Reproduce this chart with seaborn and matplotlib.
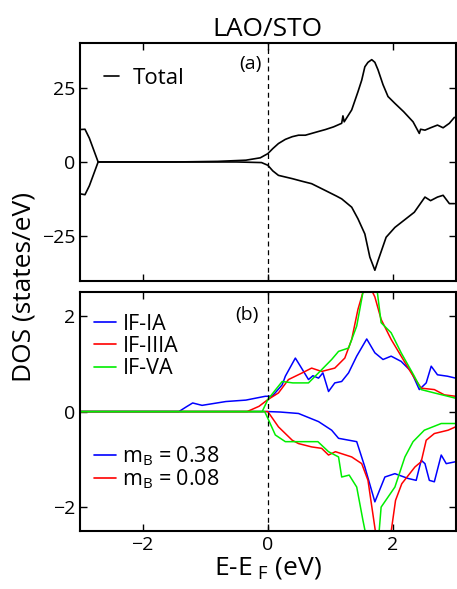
import numpy as np
import pandas as pd
import matplotlib
matplotlib.use("Agg")
import matplotlib.pyplot as plt
from matplotlib.lines import Line2D
import seaborn as sns

# ---------------- data ----------------
tot_up_E = [-3.0, -2.92, -2.85, -2.71, -2.0, -1.47, -0.8, -0.35, -0.12, 0.0, 0.08, 0.17, 0.28, 0.39, 0.49,
            0.6, 0.70, 0.8, 0.92, 1.05, 1.18, 1.2, 1.22, 1.34, 1.44, 1.5, 1.55, 1.6, 1.66, 1.71, 1.76, 1.84,
            1.92, 2.03, 2.17, 2.32, 2.42, 2.44, 2.51, 2.6, 2.71, 2.8, 2.9, 2.98]
tot_up = [10.9, 11.0, 8.0, 0.0, 0.0, 0.0, 0.2, 0.6, 1.4, 2.8, 4.5, 6.2, 7.6, 8.5, 9.0,
          9.0, 9.6, 10.2, 10.9, 11.8, 13.0, 15.5, 13.5, 17.5, 23.6, 27.5, 32.0, 33.5, 34.4, 33.5, 31.0, 26.0,
          22.0, 19.7, 16.9, 13.5, 9.6, 11.0, 10.7, 11.5, 12.4, 11.5, 13.0, 15.0]
tot_dn_E = [-3.0, -2.92, -2.85, -2.71, -2.0, -0.5, -0.1, 0.0, 0.08, 0.17, 0.39, 0.55, 0.70, 0.92, 1.1,
            1.18, 1.34, 1.44, 1.55, 1.63, 1.71, 1.76, 1.89, 2.03, 2.17, 2.34, 2.51, 2.6, 2.71, 2.8, 2.9, 2.98]
tot_dn = [-10.7, -11.0, -8.0, 0.0, 0.0, 0.0, -0.2, -1.1, -3.0, -4.5, -5.6, -6.5, -7.3, -9.6, -11.5,
          -12.4, -15.2, -19.1, -24.2, -32.0, -36.4, -33.2, -25.3, -22.0, -19.7, -16.9, -11.8, -13.0, -11.8,
          -11.2, -14.0, -14.0]

ia_up_E = [-3.0, -1.42, -1.3, -1.2, -1.05, -0.67, -0.35, -0.04, 0.07, 0.23, 0.28, 0.44, 0.52, 0.65, 0.72,
           0.81, 0.88, 0.97, 1.07, 1.18, 1.29, 1.42, 1.58, 1.71, 1.84, 1.97, 2.13, 2.29, 2.42, 2.53, 2.61,
           2.71, 2.87, 3.0]
ia_up = [0.0, 0.0, 0.1, 0.18, 0.13, 0.21, 0.24, 0.32, 0.32, 0.56, 0.74, 1.12, 0.95, 0.67, 0.75,
         0.70, 0.81, 0.42, 0.6, 0.63, 0.81, 1.16, 1.52, 1.23, 1.09, 1.16, 1.05, 0.84, 0.46, 0.6, 0.95,
         0.77, 0.74, 0.7]
ia_dn_E = [-3.0, 0.0, 0.2, 0.49, 0.81, 1.02, 1.13, 1.42, 1.55, 1.71, 1.87, 2.03, 2.24, 2.37, 2.45, 2.51,
           2.58, 2.66, 2.77, 2.85, 3.0]
ia_dn = [0.0, 0.0, -0.01, -0.04, -0.21, -0.39, -0.56, -0.63, -1.16, -1.89, -1.37, -1.3, -1.40, -1.44,
         -1.02, -1.09, -1.44, -1.47, -0.91, -1.09, -1.05]

iiia_up_E = [-3.0, -0.33, -0.14, 0.0, 0.17, 0.33, 0.55, 0.70, 0.86, 1.07, 1.23, 1.34, 1.44, 1.52, 1.6,
             1.71, 1.81, 1.97, 2.13, 2.29, 2.45, 2.66, 2.82, 3.0]
iiia_up = [0.0, 0.0, 0.11, 0.25, 0.39, 0.67, 0.81, 0.91, 0.84, 0.91, 1.12, 1.51, 2.14, 2.5, 2.7,
           2.4, 1.93, 1.51, 1.16, 0.81, 0.49, 0.46, 0.35, 0.32]
iiia_dn_E = [-3.0, 0.0, 0.17, 0.39, 0.49, 0.70, 0.86, 0.97, 1.08, 1.34, 1.5, 1.6, 1.74, 1.95, 2.04, 2.14,
             2.35, 2.45, 2.53, 2.66, 2.88, 3.0]
iiia_dn = [0.0, 0.0, -0.32, -0.6, -0.67, -0.74, -0.77, -0.91, -0.84, -0.95, -1.09, -1.44, -2.7, -2.7,
           -1.86, -1.51, -1.16, -1.05, -0.6, -0.46, -0.39, -0.32]

va_up_E = [-3.0, -0.09, 0.0, 0.12, 0.23, 0.4, 0.65, 0.81, 1.02, 1.13, 1.29, 1.42, 1.52, 1.62, 1.74, 1.81,
           1.97, 2.13, 2.34, 2.45, 2.66, 3.0]
va_up = [0.0, 0.0, 0.25, 0.45, 0.63, 0.6, 0.6, 0.81, 1.09, 1.26, 1.33, 1.79, 2.5, 2.8, 2.6, 1.86,
         1.65, 1.23, 0.74, 0.46, 0.39, 0.28]
va_dn_E = [-3.0, -0.05, 0.0, 0.12, 0.28, 0.49, 0.8, 0.97, 1.13, 1.18, 1.3, 1.42, 1.52, 1.6, 1.76, 1.81,
           2.03, 2.19, 2.32, 2.5, 2.77, 3.0]
va_dn = [0.0, 0.0, -0.14, -0.49, -0.63, -0.63, -0.63, -0.84, -0.95, -1.37, -1.33, -1.58, -2.28, -2.8,
         -2.8, -2.0, -1.58, -0.95, -0.63, -0.39, -0.25, -0.25]

series_names = ["IF-IA", "IF-IIIA", "IF-VA"]
moment_labels = [r"m$_B$ = 0.38", r"m$_B$ = 0.08"]

# ---------------- styling ----------------
sns.set_style("ticks")
plt.rcParams['font.family'] = ['Open Sans', 'DejaVu Sans']
plt.rcParams['mathtext.fontset'] = 'custom'
plt.rcParams['mathtext.rm'] = 'Open Sans'
plt.rcParams['mathtext.it'] = 'Open Sans'
for k in ['text.color', 'axes.labelcolor', 'xtick.color', 'ytick.color', 'axes.edgecolor']:
    plt.rcParams[k] = 'black'
plt.rcParams['xtick.direction'] = 'in'
plt.rcParams['ytick.direction'] = 'in'
plt.rcParams['xtick.top'] = True
plt.rcParams['ytick.right'] = True
plt.rcParams['axes.linewidth'] = 1.5

fig = plt.figure(figsize=(4.57, 5.89), dpi=100)
ax1 = fig.add_axes([0.175, 0.523, 0.822, 0.404])
ax2 = fig.add_axes([0.175, 0.0985, 0.822, 0.4055])

def df(E, D):
    return pd.DataFrame({"E": E, "DOS": D})

# top panel
sns.lineplot(data=df(tot_up_E, tot_up), x="E", y="DOS", ax=ax1, color="black", lw=1.2,
             label="Total", sort=False)
sns.lineplot(data=df(tot_dn_E, tot_dn), x="E", y="DOS", ax=ax1, color="black", lw=1.2, sort=False)
ax1.axvline(0, color="black", ls=(0, (4, 3)), lw=0.9)
ax1.set_xlim(-3, 3)
ax1.set_ylim(-40, 40)
ax1.set_yticks([-25, 0, 25])
ax1.set_xticks([-2, 0, 2])
ax1.set_xticklabels([])
ax1.set_xlabel("")
ax1.set_ylabel("")
ax1.text(-0.27, 33, "(a)", fontsize=14, ha="center", va="center")
ax1.legend(loc="upper left", frameon=False, fontsize=16, handlelength=0.7, handletextpad=0.6,
           bbox_to_anchor=(0.01, 0.98))
ax1.set_title("LAO/STO", fontsize=19, pad=5)

# bottom panel
cols = dict(zip(series_names, ["#0000ff", "#ff0000", "#00ee00"]))
sns.lineplot(data=df(ia_up_E, ia_up), x="E", y="DOS", ax=ax2, color=cols["IF-IA"], lw=1.1, sort=False)
sns.lineplot(data=df(ia_dn_E, ia_dn), x="E", y="DOS", ax=ax2, color=cols["IF-IA"], lw=1.1, sort=False)
sns.lineplot(data=df(iiia_up_E, iiia_up), x="E", y="DOS", ax=ax2, color=cols["IF-IIIA"], lw=1.1, sort=False)
sns.lineplot(data=df(iiia_dn_E, iiia_dn), x="E", y="DOS", ax=ax2, color=cols["IF-IIIA"], lw=1.1, sort=False)
sns.lineplot(data=df(va_up_E, va_up), x="E", y="DOS", ax=ax2, color=cols["IF-VA"], lw=1.1, sort=False)
sns.lineplot(data=df(va_dn_E, va_dn), x="E", y="DOS", ax=ax2, color=cols["IF-VA"], lw=1.1, sort=False)
ax2.axvline(0, color="black", ls=(0, (4, 3)), lw=0.9)
ax2.set_xlim(-3, 3)
ax2.set_ylim(-2.5, 2.5)
ax2.set_yticks([-2, 0, 2])
ax2.set_xticks([-2, 0, 2])
ax2.set_ylabel("")
ax2.set_xlabel(r"E-E$_{\ F}$ (eV)", fontsize=19, labelpad=1)
ax2.text(-0.33, 2.03, "(b)", fontsize=14, ha="center", va="center")

hs = [Line2D([], [], color=cols[k], lw=1.2) for k in series_names]
leg1 = ax2.legend(hs, series_names, loc="upper left", frameon=False, fontsize=15.5,
                  handlelength=1.0, handletextpad=0.3, labelspacing=0.05,
                  bbox_to_anchor=(-0.013, 0.99))
ax2.add_artist(leg1)
hs2 = [Line2D([], [], color=cols["IF-IA"], lw=1.2), Line2D([], [], color=cols["IF-IIIA"], lw=1.2)]
ax2.legend(hs2, moment_labels, loc="upper left", frameon=False, fontsize=15.5,
           handlelength=1.0, handletextpad=0.3, labelspacing=0.0, bbox_to_anchor=(-0.013, 0.445))

for ax in (ax1, ax2):
    ax.tick_params(labelsize=14, length=5, width=1.0)

fig.text(0.053, 0.513, "DOS (states/eV)", rotation=90, fontsize=19, ha="center", va="center")

fig.savefig("out.png", dpi=100)
